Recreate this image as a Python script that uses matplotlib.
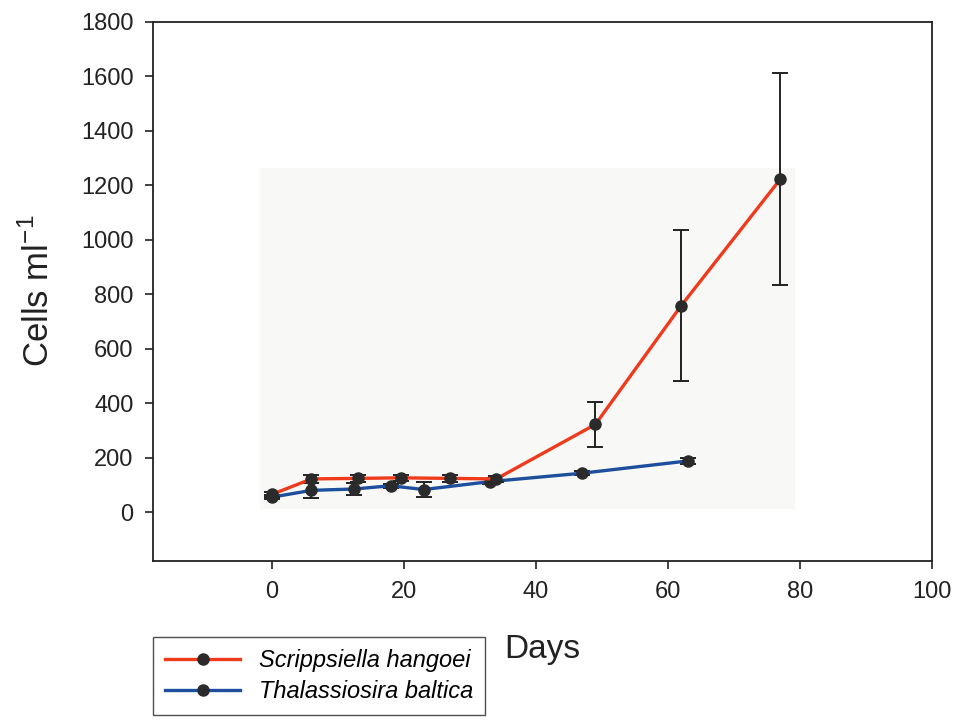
import matplotlib
matplotlib.use("Agg")
import matplotlib.pyplot as plt
from matplotlib.patches import Rectangle
from matplotlib.lines import Line2D

plt.rcParams['font.family'] = ['Liberation Sans', 'DejaVu Sans']

# Scrippsiella hangoei
s_days = [0, 6, 13, 19.5, 27, 34, 49, 62, 77]
s_cells = [65, 122, 124, 126, 124, 122, 322, 758, 1222]
s_err = [10, 15, 12, 10, 12, 12, 82, 276, 390]

# Thalassiosira baltica
t_days = [0, 6, 12.5, 18, 23, 33, 47, 63]
t_cells = [55, 80, 85, 97, 83, 112, 143, 188]
t_err = [8, 28, 22, 8, 28, 10, 8, 10]

xticks = [0, 20, 40, 60, 80, 100]
yticks = [0, 200, 400, 600, 800, 1000, 1200, 1400, 1600, 1800]

fig = plt.figure(figsize=(9.56, 7.26), dpi=100)
ax = fig.add_axes([0.160, 0.227, 0.815, 0.743])

# faint scanned background tint
ax.add_patch(Rectangle((0.137, 0.0965), 0.687, 0.633, transform=ax.transAxes,
                       facecolor='#f8f8f7', edgecolor='none', zorder=0))

red = '#f03a1c'
blue = '#1d4f9e'
mk = '#2b2b2b'
ax.errorbar(t_days, t_cells, yerr=t_err, color=blue, lw=2.4, marker='o', ms=8,
            mfc=mk, mec=mk, ecolor='#222222', elinewidth=1.4,
            capsize=6, capthick=1.4, zorder=3)
ax.errorbar(s_days, s_cells, yerr=s_err, color=red, lw=2.4, marker='o', ms=8,
            mfc=mk, mec=mk, ecolor='#222222', elinewidth=1.4,
            capsize=6, capthick=1.4, zorder=4)

ax.set_xlim(-18, 100)
ax.set_ylim(-180, 1800)
ax.set_xticks(xticks)
ax.set_yticks(yticks)
ax.tick_params(axis='both', direction='out', length=6, width=1.2, labelsize=17,
               colors='#222222', pad=8)
for s in ax.spines.values():
    s.set_linewidth(1.3)
    s.set_color('#222222')

fig.text(0.040, 0.60, r'Cells ml$^{\mathregular{-1}}$', rotation=90, ha='center',
         va='center', fontsize=25, color='#222222')
fig.text(0.567, 0.105, 'Days', ha='center', va='center', fontsize=24, color='#222222')

handles = [Line2D([], [], color=red, lw=2.4, marker='o', ms=8, mfc=mk, mec=mk),
           Line2D([], [], color=blue, lw=2.4, marker='o', ms=8, mfc=mk, mec=mk)]
labels = ['Scrippsiella hangoei', 'Thalassiosira baltica']
leg = fig.legend(handles, labels, loc='upper left',
                 bbox_to_anchor=(0.160, 1 - 637 / 726), frameon=True, fancybox=False,
                 edgecolor='#222222', prop={'style': 'italic', 'size': 17},
                 handlelength=3.2, borderpad=0.5, labelspacing=0.35,
                 handletextpad=0.8, borderaxespad=0)
leg.get_frame().set_linewidth(1.0)

fig.savefig('out.png', dpi=100, facecolor='white')
